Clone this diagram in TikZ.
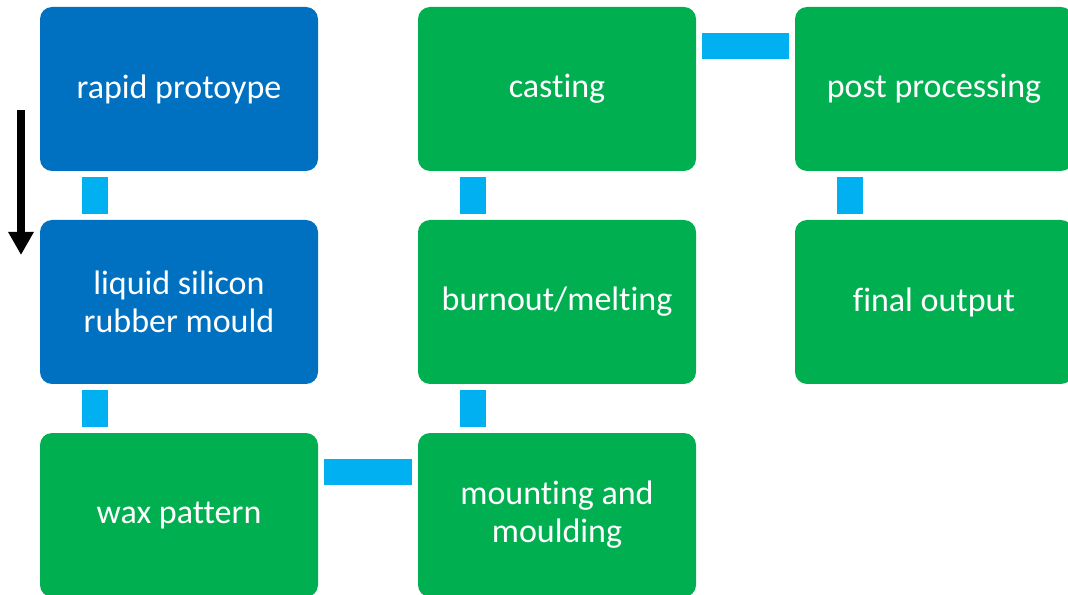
\documentclass[tikz,border=0pt]{standalone}
\usepackage{fontspec}
\setmainfont{Carlito}[Ligatures=NoCommon]
\usepackage{tikz}
\usetikzlibrary{arrows.meta}
\usetikzlibrary{calc}

\definecolor{stepblue}{RGB}{0,112,192}
\definecolor{stepgreen}{RGB}{0,176,80}
\definecolor{linkcyan}{RGB}{0,176,240}

\begin{document}
\begin{tikzpicture}[x=0.75pt,y=0.75pt,
  box/.style={rounded corners=9pt, minimum width=208.5pt, minimum height=123pt,
    align=center, text=white, font=\fontsize{25.5pt}{28.5pt}\selectfont, inner sep=0pt},
  bluebox/.style={box, fill=stepblue},
  greenbox/.style={box, fill=stepgreen},
  link/.style={draw=linkcyan, line width=19.5pt}]
  \useasboundingbox (0,0) rectangle (1068,-595);

  \node [bluebox]  (rapid)    at (179,-89)  {rapid protoype};
  \node [bluebox]  (liquid)   at (179,-302) {liquid silicon\\rubber mould};
  \node [greenbox] (wax)      at (179,-515) {wax pattern};
  \node [greenbox] (mounting) at (557,-515) {mounting and\\moulding};
  \node [greenbox] (burnout)  at (557,-302) {burnout/melting};
  \node [greenbox] (casting)  at (557,-89)  {casting};
  \node [greenbox] (post)     at (934,-89)  {post processing};
  \node [greenbox] (final)    at (934,-302) {final output};

  \draw [link] ($(rapid.south west)+(55,-6)$) -- ($(liquid.north west)+(55,6)$);
  \draw [link] ($(liquid.south west)+(55,-6)$) -- ($(wax.north west)+(55,6)$);
  \draw [link] ($(wax.north east)+(6,-39)$) -- ($(mounting.north west)+(-6,-39)$);
  \draw [link] ($(mounting.north west)+(55,6)$) -- ($(burnout.south west)+(55,-6)$);
  \draw [link] ($(burnout.north west)+(55,6)$) -- ($(casting.south west)+(55,-6)$);
  \draw [link] ($(casting.north east)+(6,-39)$) -- ($(post.north west)+(-6,-39)$);
  \draw [link] ($(post.south west)+(55,-6)$) -- ($(final.north west)+(55,6)$);

  % direction of the flow
  \coordinate (flowtop) at (21,-110);
  \coordinate (flowend) at (21,-255);
  \draw [line width=5.6pt, -{Triangle[length=17.25pt,width=18pt]}] (flowtop) -- (flowend);

\end{tikzpicture}
\end{document}
